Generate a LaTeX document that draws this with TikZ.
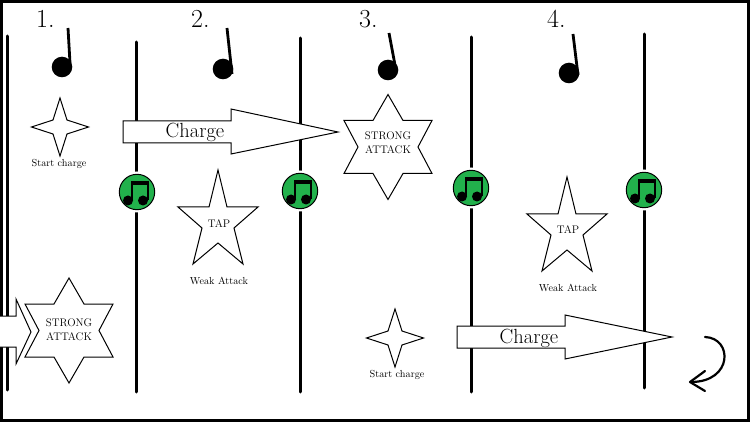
\documentclass[tikz,border=0pt]{standalone}
\definecolor{notegreen}{HTML}{22B14C}
\tikzset{
 bar/.style={line width=3pt,line cap=round},
 shapeline/.style={draw=black,fill=white,line width=1pt,line join=miter},
 beat/.style={font=\fontsize{26}{26}\selectfont,anchor=base west,inner sep=0pt},
 chargetext/.style={font=\fontsize{20.5}{20.5}\selectfont,anchor=base,inner sep=0pt},
 caption/.style={font=\fontsize{10.2}{10.2}\selectfont,anchor=base,inner sep=0pt},
 hit/.style={font=\fontsize{11}{14}\selectfont,align=center,inner sep=0pt}
}
\begin{document}
\begin{tikzpicture}[x=1pt,y=-1pt]
\useasboundingbox (0,0) rectangle (750,422);
\fill[white] (0,0) rectangle (750,422);
\draw[line width=3pt] (1.5,1.5) rectangle (748.5,420.5);
% bar lines
\foreach \x/\ya/\yb in {7/36/390,136/42/392,300/38/392,471/37/392,644/34/388}{\draw[bar](\x,\ya)--(\x,\yb);}
% quarter notes
\foreach \hx/\hy/\ax/\ay/\bx/\by in {62/67/68/28/70/63,223/69/227/28/232/74,388/70/389/33/395/65,569/73/573/34/578/75}{\fill(\hx,\hy)circle(10.3);\draw[line width=2.8pt](\ax,\ay)--(\bx,\by);}
% charge arrows
\foreach \l/\b/\t/\hu/\hd/\ty/\sa/\sb in {123/231/338/109/154/132/121/143,457/565/672/315/359/337/326/348,-3/16/31/299/364/332/316/347}{\draw[shapeline](\l,\sa)--(\b,\sa)--(\b,\hu)--(\t,\ty)--(\b,\hd)--(\b,\sb)--(\l,\sb)--cycle;}
% four pointed stars
\foreach \cx/\cy in {60/127,395/338}{\draw[shapeline](\cx,\cy-29)--(\cx+7,\cy-7)--(\cx+28.5,\cy)--(\cx+7,\cy+7)--(\cx,\cy+29)--(\cx-7,\cy+7)--(\cx-28.5,\cy)--(\cx-7,\cy-7)--cycle;}
% six pointed stars
\foreach \cx/\cy in {388/147,69/330.5}{\draw[shapeline](\cx,\cy-52.5)--(\cx+15,\cy-26.5)--(\cx+44,\cy-26.5)--(\cx+30,\cy)--(\cx+44,\cy+26.5)--(\cx+15,\cy+26.5)--(\cx,\cy+52.5)--(\cx-15,\cy+26.5)--(\cx-44,\cy+26.5)--(\cx-30,\cy)--(\cx-44,\cy-26.5)--(\cx-15,\cy-26.5)--cycle;}
% five pointed stars
\foreach \cx/\cy in {218/170,567/177}{\draw[shapeline](\cx,\cy)--(\cx+9,\cy+37)--(\cx+40,\cy+37)--(\cx+16,\cy+58)--(\cx+25,\cy+94)--(\cx,\cy+73)--(\cx-25,\cy+94)--(\cx-16,\cy+58)--(\cx-40,\cy+37)--(\cx-9,\cy+37)--cycle;}
% eighth notes on the bars
\foreach \cx/\cy in {137/192,300/191,471/188,644/190}{
\fill[white](\cx,\cy)circle(20.5);
\draw[fill=notegreen,line width=1pt](\cx,\cy)circle(17.7);
\fill(\cx-9,\cy+8.5)circle(5);
\fill(\cx+6,\cy+8.5)circle(5);
\draw[line width=2pt](\cx-5.5,\cy+8)--(\cx-5.5,\cy-10);
\draw[line width=2pt](\cx+10.5,\cy+8)--(\cx+10.5,\cy-10);
\fill(\cx-6.5,\cy-11)rectangle(\cx+11.5,\cy-7.3);
}
% repeat arrow
\draw[line width=2.2pt,line cap=round](705,337).. controls (733,338) and (733,382) .. (691,382);
\draw[line width=2.2pt,line cap=round,line join=round](705,371)--(690,382)--(705,391);
\node[beat](one)at(36,28){1.};
\node[beat](two)at(191,28){2.};
\node[beat](three)at(359,28){3.};
\node[beat](four)at(547,28){4.};
\node[chargetext](chargea)at(195,138){Charge};
\node[chargetext](chargeb)at(529,343){Charge};
\node[caption](starta)at(59,167){Start charge};
\node[caption](startb)at(397,377){Start charge};
\node[caption](weaka)at(219,284){Weak Attack};
\node[caption](weakb)at(568,291){Weak Attack};
\node[hit](tapa)at(219,224){TAP};
\node[hit](tapb)at(568,230){TAP};
\node[hit](stronga)at(388,143){STRONG\\ATTACK};
\node[hit](strongb)at(69,330){STRONG\\ATTACK};
\end{tikzpicture}
\end{document}
